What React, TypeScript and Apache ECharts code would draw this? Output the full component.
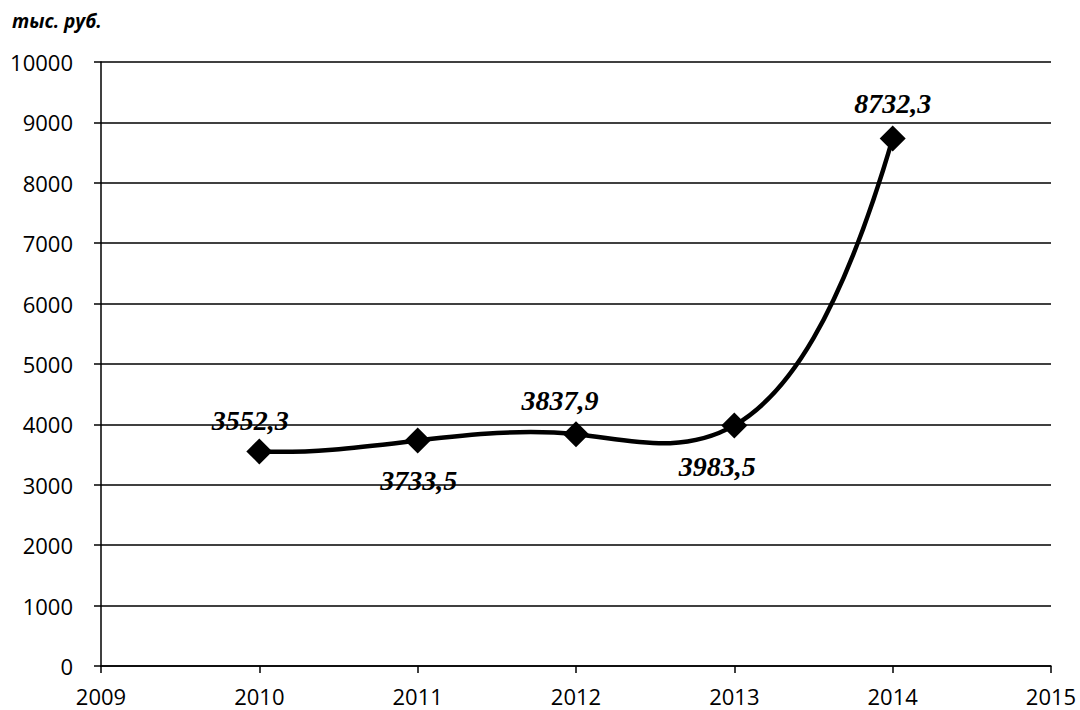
import React, { useEffect, useRef } from "react";
import * as echarts from "echarts";

const years = [2010, 2011, 2012, 2013, 2014];
const values = [3552.3, 3733.5, 3837.9, 3983.5, 8732.3];
const valueLabels = ["3552,3", "3733,5", "3837,9", "3983,5", "8732,3"];
const labelOffsets = [[-9, -31], [1, 40], [-16, -34], [-17, 41], [0, -35]];
const unitLabel = "тыс. руб.";

// Smooth curve through the data points (not-a-knot cubic spline), expressed as Bezier segments in data space
function splineBeziers(xs: number[], ys: number[]) {
  const n = xs.length - 1;
  const h: number[] = [];
  for (let i = 0; i < n; i++) h.push(xs[i + 1] - xs[i]);
  const N = n + 1;
  const A: number[][] = [];
  const b: number[] = [];
  for (let r = 0; r < N; r++) {
    A.push(new Array(N).fill(0));
    b.push(0);
  }
  A[0][0] = h[1];
  A[0][1] = -(h[0] + h[1]);
  A[0][2] = h[0];
  for (let i = 1; i < n; i++) {
    A[i][i - 1] = h[i - 1];
    A[i][i] = 2 * (h[i - 1] + h[i]);
    A[i][i + 1] = h[i];
    b[i] = 6 * ((ys[i + 1] - ys[i]) / h[i] - (ys[i] - ys[i - 1]) / h[i - 1]);
  }
  A[n][n - 2] = h[n - 1];
  A[n][n - 1] = -(h[n - 2] + h[n - 1]);
  A[n][n] = h[n - 2];
  for (let c = 0; c < N; c++) {
    let p = c;
    for (let r = c + 1; r < N; r++) if (Math.abs(A[r][c]) > Math.abs(A[p][c])) p = r;
    [A[c], A[p]] = [A[p], A[c]];
    [b[c], b[p]] = [b[p], b[c]];
    for (let r = c + 1; r < N; r++) {
      const f = A[r][c] / A[c][c];
      for (let k = c; k < N; k++) A[r][k] -= f * A[c][k];
      b[r] -= f * b[c];
    }
  }
  const M = new Array(N).fill(0);
  for (let r = N - 1; r >= 0; r--) {
    let s = b[r];
    for (let k = r + 1; k < N; k++) s -= A[r][k] * M[k];
    M[r] = s / A[r][r];
  }
  const segs: number[][][] = [];
  for (let i = 0; i < n; i++) {
    const hi = h[i];
    const slope = (ys[i + 1] - ys[i]) / hi;
    const d0 = slope - (hi * (2 * M[i] + M[i + 1])) / 6;
    const d1 = slope + (hi * (M[i] + 2 * M[i + 1])) / 6;
    segs.push([
      [xs[i], ys[i]],
      [xs[i] + hi / 3, ys[i] + (d0 * hi) / 3],
      [xs[i + 1] - hi / 3, ys[i + 1] - (d1 * hi) / 3],
      [xs[i + 1], ys[i + 1]],
    ]);
  }
  return segs;
}

export default function App() {
  const ref = useRef<HTMLDivElement>(null);
  useEffect(() => {
    document.body.style.margin = "0";
    const chart = echarts.init(ref.current!, null, { renderer: "svg" });
    const segs = splineBeziers(years, values);
    const pointData = years.map((y, i) => ({
      value: [y, values[i]],
      label: {
        show: true,
        position: "inside",
        offset: labelOffsets[i],
        formatter: () => valueLabels[i],
      },
    }));
    chart.setOption({
      animation: false,
      backgroundColor: "#ffffff",
      graphic: [
        {
          type: "text",
          left: 12,
          top: 11,
          style: {
            text: unitLabel,
            font: "italic bold 19px 'Open Sans'",
            fill: "#000",
          },
        },
      ],
      grid: { left: 101, top: 62, width: 950, height: 604, containLabel: false },
      xAxis: {
        type: "value",
        min: 2009,
        max: 2015,
        interval: 1,
        axisLine: { show: true, onZero: false, lineStyle: { color: "#000", width: 1.5 } },
        axisTick: { show: true, length: 7, lineStyle: { color: "#000", width: 1.5 } },
        axisLabel: {
          color: "#000",
          fontFamily: "Open Sans",
          fontSize: 22,
          margin: 19,
          formatter: (v: number) => String(v),
        },
        splitLine: { show: false },
      },
      yAxis: {
        type: "value",
        min: 0,
        max: 10000,
        interval: 1000,
        axisLine: { show: true, lineStyle: { color: "#000", width: 1.5 } },
        axisTick: { show: true, length: 7, lineStyle: { color: "#000", width: 1.5 } },
        axisLabel: {
          color: "#000",
          fontFamily: "Open Sans",
          fontSize: 22,
          margin: 28,
          formatter: (v: number) => String(v),
        },
        splitLine: { show: true, lineStyle: { color: "#000", width: 1.5 } },
      },
      series: [
        {
          type: "custom",
          data: years.map((y, i) => [y, values[i]]),
          encode: { x: 0, y: 1 },
          z: 2,
          renderItem: (params: any, api: any) => {
            if (params.dataIndex !== 0) return { type: "group", children: [] };
            let d = "";
            segs.forEach((s, i) => {
              const p = s.map((pt) => api.coord(pt));
              if (i === 0) d += `M${p[0][0]} ${p[0][1]}`;
              d += ` C${p[1][0]} ${p[1][1]} ${p[2][0]} ${p[2][1]} ${p[3][0]} ${p[3][1]}`;
            });
            return {
              type: "path",
              shape: { pathData: d },
              style: { stroke: "#000", lineWidth: 4.5, fill: "none" },
            };
          },
        },
        {
          type: "scatter",
          data: pointData,
          z: 3,
          symbol: "diamond",
          symbolSize: 26,
          itemStyle: { color: "#000", opacity: 1 },
          emphasis: { disabled: true },
          label: {
            show: true,
            color: "#000",
            opacity: 1,
            fontFamily: "Liberation Serif",
            fontStyle: "italic",
            fontWeight: "bold",
            fontSize: 28,
            align: "center",
            verticalAlign: "middle",
          },
        },
      ],
    });
    return () => chart.dispose();
  }, []);
  return <div ref={ref} style={{ width: 1080, height: 710, position: "absolute", left: 0, top: 0 }} />;
}
